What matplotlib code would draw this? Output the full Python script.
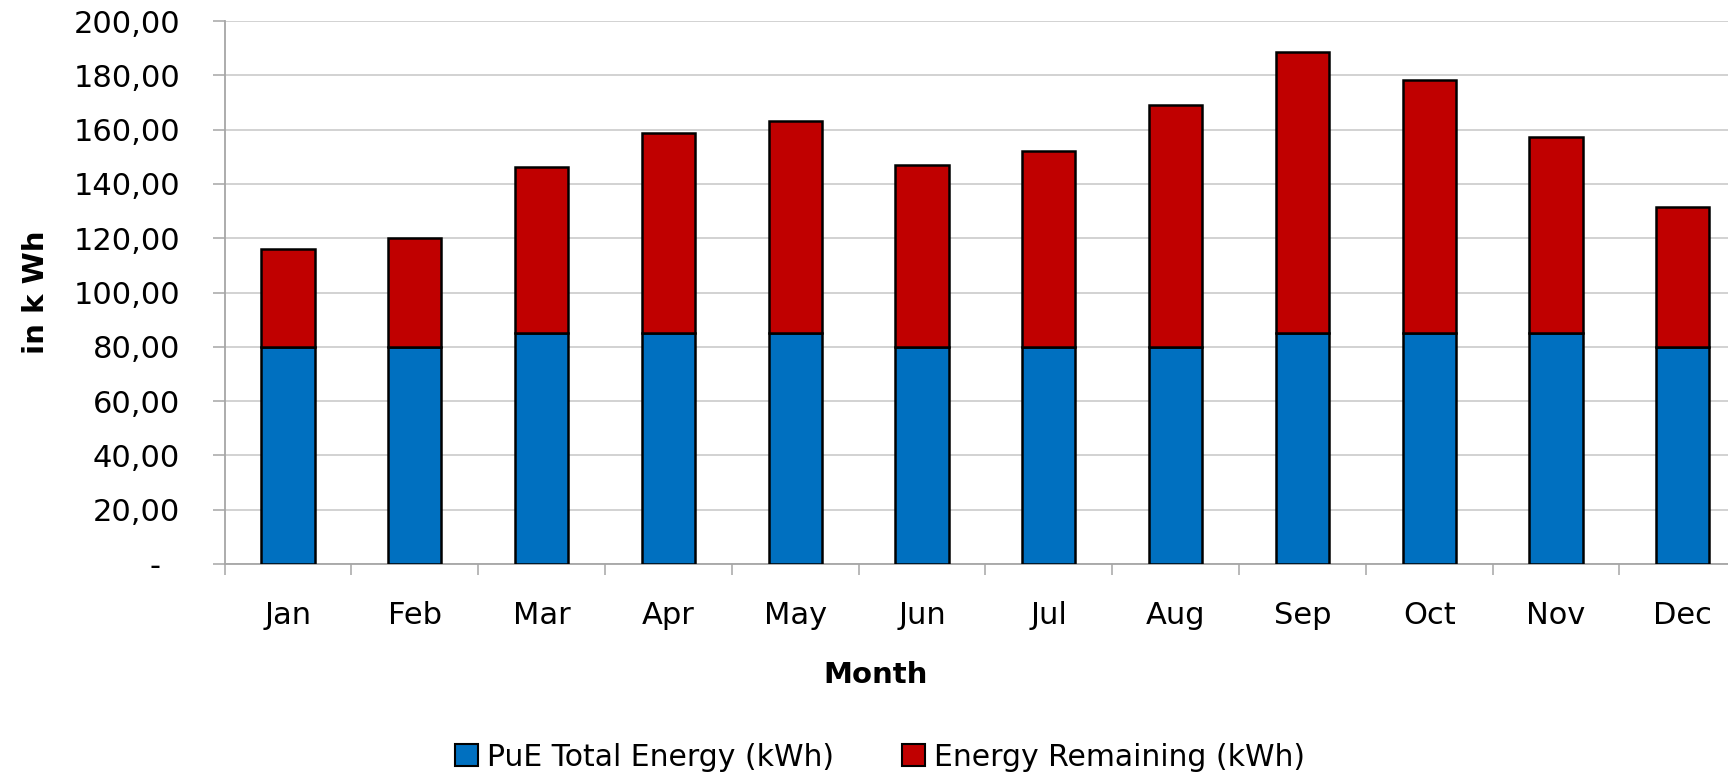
import numpy as np
import matplotlib
matplotlib.use("Agg")
import matplotlib.pyplot as plt
from matplotlib.patches import Patch

plt.rcParams['font.family'] = ['DejaVu Sans']

months = ["Jan", "Feb", "Mar", "Apr", "May", "Jun",
          "Jul", "Aug", "Sep", "Oct", "Nov", "Dec"]
pue_total = [80, 80, 85, 85, 85, 80, 80, 80, 85, 85, 85, 80]
energy_remaining = [36.0, 40.0, 61.3, 73.6, 78.3, 67.0,
                    72.0, 89.0, 103.7, 93.3, 72.2, 51.6]
y_ticks = [0, 20, 40, 60, 80, 100, 120, 140, 160, 180, 200]
y_tick_labels = ["-  ", "20,00", "40,00", "60,00", "80,00", "100,00",
                 "120,00", "140,00", "160,00", "180,00", "200,00"]

blue = "#0070C0"
red = "#C00000"
fs = 22

fig = plt.figure(figsize=(17.28, 7.76), dpi=100)
ax = fig.add_axes([0.130, 0.2732, 0.870, 0.6997])

x = np.arange(len(months))
ax.bar(x, pue_total, width=0.42, color=blue, edgecolor="black",
       linewidth=1.8, zorder=3)
ax.bar(x, energy_remaining, width=0.42, bottom=pue_total, color=red,
       edgecolor="black", linewidth=1.8, zorder=3)

# y axis
ax.set_yticks(y_ticks)
ax.set_yticklabels(y_tick_labels)
ax.tick_params(axis="y", length=9, width=1.1, color="#a6a6a6",
               pad=23, labelsize=fs)
ax.yaxis.grid(True, color="#cfcfcf", linewidth=1.3, zorder=0)

# x axis: labels at centres, tick marks at the category boundaries
ax.set_xticks(x)
ax.set_xticklabels(months)
ax.set_xticks(np.arange(-0.5, len(months), 1.0), minor=True)
ax.tick_params(axis="x", which="major", length=0, pad=27, labelsize=fs)
ax.tick_params(axis="x", which="minor", length=8, width=1.1, color="#a6a6a6")

ax.set_xlim(-0.5, 11.357)
ax.set_ylim(0, 200)

for side in ["top", "right"]:
    ax.spines[side].set_visible(False)
for side in ["left", "bottom"]:
    ax.spines[side].set_color("#a6a6a6")
    ax.spines[side].set_linewidth(1.3)

ax.set_xlabel("Month", fontsize=21, fontweight="bold")
ax.xaxis.set_label_coords(0.433, -0.178)
ax.set_ylabel("in k Wh", fontsize=21, fontweight="bold")
ax.yaxis.set_label_coords(-0.116, 0.5)

handles = [Patch(facecolor=blue, edgecolor="black", linewidth=1.5),
           Patch(facecolor=red, edgecolor="black", linewidth=1.5)]
fig.legend(handles, ["PuE Total Energy (kWh)", "Energy Remaining (kWh)"],
           loc="center", bbox_to_anchor=(880 / 1728, 1 - 757 / 776),
           ncol=2, frameon=False, fontsize=21.5, handlelength=0.77,
           handleheight=0.72, handletextpad=0.28, columnspacing=2.3)

fig.savefig("out.png", dpi=100)
